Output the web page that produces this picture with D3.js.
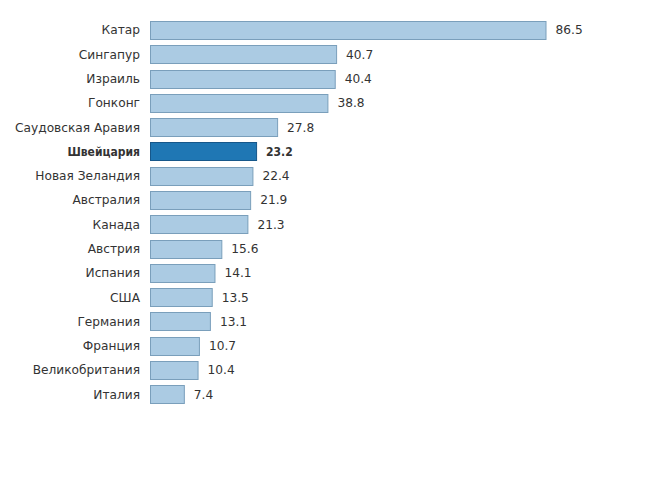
<!DOCTYPE html>
<html><head><meta charset="utf-8">
<script src="https://cdn.jsdelivr.net/npm/d3@7"></script>
<style>body{margin:0;background:#fff}svg{display:block}</style>
</head><body><svg id="c" width="648" height="482"></svg>
<script>
const countries = ["Катар","Сингапур","Израиль","Гонконг","Саудовская Аравия","Швейцария","Новая Зеландия","Австралия","Канада","Австрия","Испания","США","Германия","Франция","Великобритания","Италия"];
const values = [86.5,40.7,40.4,38.8,27.8,23.2,22.4,21.9,21.3,15.6,14.1,13.5,13.1,10.7,10.4,7.4];
const highlighted = ["Швейцария"];

const svg = d3.select("#c");
const x = d3.scaleLinear().domain([0, 86.5]).range([150, 545.5]);
const y = d3.scaleBand().domain(countries).range([18, 406.5]).paddingInner(0.25).paddingOuter(0.125);
const data = countries.map((c,i)=>({c, v: values[i], h: highlighted.includes(c)}));

svg.selectAll("rect.bar").data(data).join("rect")
  .attr("class","bar")
  .attr("x", x(0)+0.5)
  .attr("y", d=>Math.round(y(d.c))+0.5)
  .attr("width", d=>x(d.v)-x(0))
  .attr("height", Math.round(y.bandwidth()))
  .attr("fill", d=>d.h ? "#1f77b4" : "#abcbe3")
  .attr("stroke", d=>d.h ? "#16578a" : "#7a9fbb")
  .attr("stroke-width", 1);

function font(sel){
  sel.style("font-family", d=>d.h ? '"DejaVu Sans Condensed","DejaVu Sans",sans-serif' : '"DejaVu Sans",sans-serif')
     .style("font-weight", d=>d.h ? "bold" : "normal")
     .style("font-size", d=>d.h ? "12px" : "12.2px")
     .attr("fill","#333");
}

svg.selectAll("text.lab").data(data).join("text")
  .attr("class","lab")
  .attr("x", 140)
  .attr("y", d=>y(d.c)+y.bandwidth()/2)
  .attr("dy","0.35em")
  .attr("text-anchor","end")
  .call(font)
  .text(d=>d.c);

svg.selectAll("text.val").data(data).join("text")
  .attr("class","val")
  .attr("x", d=>x(d.v)+10)
  .attr("y", d=>y(d.c)+y.bandwidth()/2)
  .attr("dy","0.35em")
  .call(font)
  .text(d=>d.v.toFixed(1));
</script></body></html>
